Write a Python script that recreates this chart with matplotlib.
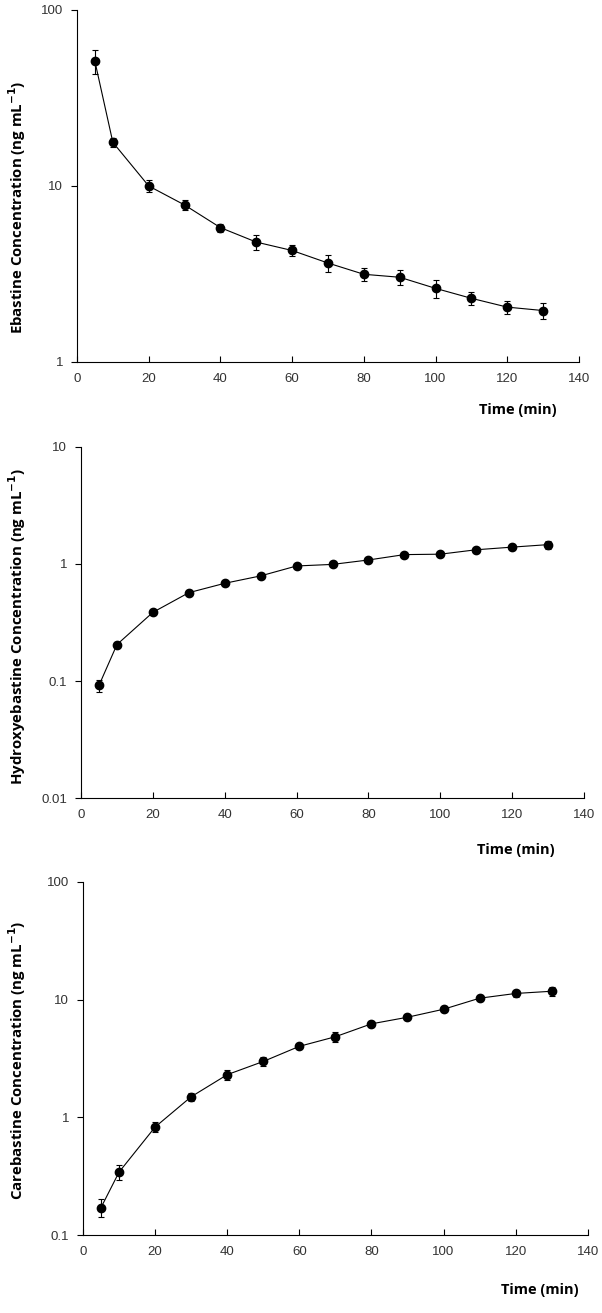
import numpy as np
import matplotlib
matplotlib.use("Agg")
import matplotlib.pyplot as plt

# sampling times (min)
time = [5, 10, 20, 30, 40, 50, 60, 70, 80, 90, 100, 110, 120, 130]

# ebastine
eba = [51, 17.7, 10.0, 7.8, 5.8, 4.8, 4.3, 3.65, 3.15, 3.03, 2.62, 2.3, 2.05, 1.96]
eba_err = [8, 1.1, 0.8, 0.5, 0.3, 0.45, 0.3, 0.4, 0.25, 0.3, 0.3, 0.2, 0.18, 0.2]

# hydroxyebastine
hyd = [0.092, 0.205, 0.386, 0.568, 0.683, 0.79, 0.96, 0.99, 1.08, 1.2, 1.21, 1.32, 1.39, 1.46]
hyd_err = [0.011, 0.01, 0.02, 0.03, 0.03, 0.03, 0.03, 0.03, 0.05, 0.05, 0.05, 0.05, 0.08, 0.12]

# carebastine
car = [0.172, 0.344, 0.83, 1.5, 2.31, 2.99, 4.02, 4.85, 6.24, 7.1, 8.3, 10.3, 11.3, 11.8]
car_err = [0.03, 0.05, 0.08, 0.13, 0.22, 0.25, 0.2, 0.45, 0.4, 0.4, 0.5, 0.6, 0.7, 1.0]

panels = [
    (eba, eba_err, "Ebastine", (1, 100), [1, 10, 100], ["1", "10", "100"]),
    (hyd, hyd_err, "Hydroxyebastine", (0.01, 10), [0.01, 0.1, 1, 10], ["0.01", "0.1", "1", "10"]),
    (car, car_err, "Carebastine", (0.1, 100), [0.1, 1, 10, 100], ["0.1", "1", "10", "100"]),
]

# axes boxes in figure fractions [left, bottom, width, height]
boxes = [
    [0.1279, 0.7243, 0.8339, 0.2681],
    [0.1346, 0.3920, 0.8355, 0.2678],
    [0.1379, 0.0592, 0.8384, 0.2691],
]
ylab_y = [1 - 207 / 1313, 1 - 627 / 1313, 1 - 1060 / 1313]
time_xy = [(518 / 602, 1 - 410 / 1313), (516 / 602, 1 - 850 / 1313), (540 / 602, 1 - 1290 / 1313)]

fig = plt.figure(figsize=(6.02, 13.13), dpi=100)

for i, (vals, err, name, ylim, yt, ytl) in enumerate(panels):
    ax = fig.add_axes(boxes[i])
    ax.errorbar(time, vals, yerr=err, color="black", marker="o", markersize=6,
                linewidth=0.8, elinewidth=0.8, capsize=2.5, capthick=0.8)
    ax.set_yscale("log")
    ax.set_ylim(*ylim)
    ax.set_xlim(0, 140)
    ax.set_yticks(yt)
    ax.set_yticklabels(ytl)
    ax.minorticks_off()
    ax.set_xticks(np.arange(0, 141, 20))
    ax.spines["top"].set_visible(False)
    ax.spines["right"].set_visible(False)
    ax.tick_params(axis="y", direction="out", length=4, width=0.8, labelsize=9.5, pad=6)
    ax.tick_params(axis="x", direction="in", length=4, width=0.8, labelsize=9.5, pad=8)
    for lab in ax.get_xticklabels() + ax.get_yticklabels():
        lab.set_family("Liberation Sans")
        lab.set_color("#333333")
    fig.text(0.028, ylab_y[i], name + r" Concentration (ng mL$^{\mathbf{-1}}$)",
             rotation=90, ha="center", va="center", fontsize=10.8,
             fontweight="bold", family="Open Sans")
    fig.text(time_xy[i][0], time_xy[i][1], "Time (min)", ha="center", va="center",
             fontsize=10.5, fontweight="bold", family="Open Sans")

plt.savefig("out.png", dpi=100)
